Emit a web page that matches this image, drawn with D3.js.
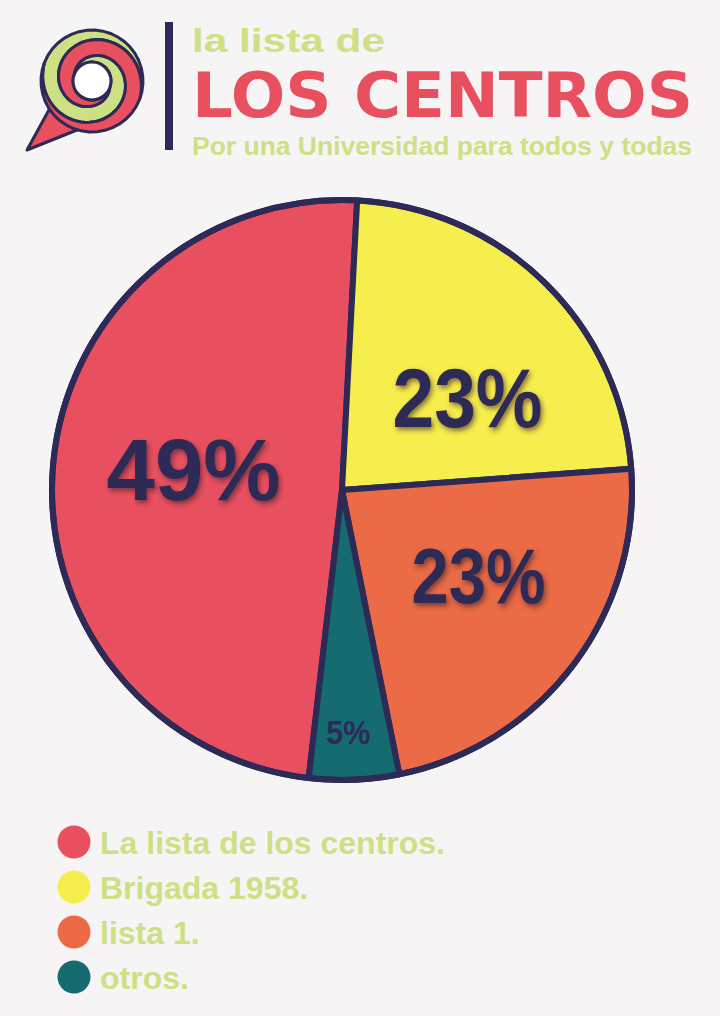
<!DOCTYPE html>
<html>
<head>
<meta charset="utf-8">
<script src="https://cdn.jsdelivr.net/npm/d3@7"></script>
<style>
  html, body { margin: 0; padding: 0; background: #f6f4f4; }
  svg { display: block; }
</style>
</head>
<body>
<svg id="chart"></svg>
<script>
// datos del gráfico
const categories = ["La lista de los centros.", "Brigada 1958.", "lista 1.", "otros."];
const values = [49, 23, 23, 5];
const labels = ["49%", "23%", "23%", "5%"];
const colors = ["#e8505f", "#f6ee4d", "#ea6b45", "#156b6f"];

const navy = "#2d2a57";
const green = "#cde083";
const W = 720, H = 1016;

const svg = d3.select("#chart").attr("width", W).attr("height", H);

svg.append("rect").attr("width", W).attr("height", H).attr("fill", "#f6f4f4");

// sombra de los porcentajes
const defs = svg.append("defs");
defs.append("filter").attr("id", "shadow")
    .attr("x", "-20%").attr("y", "-20%").attr("width", "140%").attr("height", "140%")
  .append("feDropShadow")
    .attr("dx", 2).attr("dy", 3).attr("stdDeviation", 2.5)
    .attr("flood-color", "#3b1d2c").attr("flood-opacity", 0.6);

// ---------- cabecera / logo ----------
const logo = svg.append("g");
const lc = { x: 92, y: 81 }, rIn = 19, rOut = 51;

// cola del bocadillo
logo.append("path")
    .attr("d", "M50,108 L27,150 L82,128 Z")
    .attr("fill", "#e8505f").attr("stroke", navy).attr("stroke-width", 3)
    .attr("stroke-linejoin", "round");

function spiralBand(phi) {
  const T = 2 * Math.PI, n = 60, pts = [];
  const pt = (a, r) => [lc.x + r * Math.sin(a), lc.y - r * Math.cos(a)];
  for (let i = 0; i <= n; i++) { const t = i / n; pts.push(pt(phi + t * T, rIn + (rOut - rIn) * t)); }
  for (let i = 0; i <= 20; i++) pts.push(pt(phi + T + Math.PI * i / 20, rOut));
  for (let i = n; i >= 0; i--) { const t = i / n; pts.push(pt(phi + Math.PI + t * T, rIn + (rOut - rIn) * t)); }
  for (let i = 20; i >= 0; i--) pts.push(pt(phi + Math.PI * i / 20, rIn));
  return d3.line()(pts) + "Z";
}
logo.append("path").attr("d", spiralBand(-1.2))
    .attr("fill", green).attr("stroke", navy).attr("stroke-width", 3);
logo.append("path").attr("d", spiralBand(-1.2 + Math.PI))
    .attr("fill", "#e8505f").attr("stroke", navy).attr("stroke-width", 3);
logo.append("circle").attr("cx", lc.x).attr("cy", lc.y).attr("r", rIn)
    .attr("fill", "#ffffff").attr("stroke", navy).attr("stroke-width", 3);

svg.append("rect").attr("x", 165).attr("y", 22).attr("width", 8).attr("height", 128).attr("fill", navy);

svg.append("text").attr("x", 192).attr("y", 52)
    .attr("font-family", "Liberation Sans, Arial, sans-serif").attr("font-weight", "bold").attr("font-size", 34)
    .attr("textLength", 193).attr("lengthAdjust", "spacingAndGlyphs")
    .attr("fill", green).text("la lista de");

svg.append("text").attr("x", 192).attr("y", 117)
    .attr("font-family", "DejaVu Sans, sans-serif").attr("font-weight", "bold").attr("font-size", 62)
    .attr("textLength", 501).attr("lengthAdjust", "spacingAndGlyphs")
    .attr("fill", "#e8505f").text("LOS CENTROS");

svg.append("text").attr("x", 192).attr("y", 155)
    .attr("font-family", "Liberation Sans, Arial, sans-serif").attr("font-weight", "bold").attr("font-size", 25)
    .attr("textLength", 500).attr("lengthAdjust", "spacingAndGlyphs")
    .attr("fill", green).text("Por una Universidad para todos y todas");

// ---------- gráfico de tarta ----------
const cx = 342, cy = 490, R = 290;
const total = d3.sum(values);
const rot = 3 * Math.PI / 180;
const start = -2 * Math.PI * values[0] / total + rot;

const pie = d3.pie().sort(null).value(d => d)
    .startAngle(start).endAngle(start + 2 * Math.PI);
const arcs = pie(values);
const arc = d3.arc().innerRadius(0).outerRadius(R);

const g = svg.append("g").attr("transform", `translate(${cx},${cy})`);

g.selectAll(".slice")
  .data(arcs)
  .enter()
  .append("path")
    .attr("class", "slice")
    .attr("d", arc)
    .attr("fill", (d, i) => colors[i])
    .attr("stroke", navy)
    .attr("stroke-width", 6)
    .attr("stroke-linejoin", "round");

g.append("circle").attr("r", R).attr("fill", "none").attr("stroke", navy).attr("stroke-width", 6);

// etiquetas
const labelR = [155, 155, 155, 245];
const labelNudge = [[6, -9], [17, 17], [13, -8], [-4, -3]];
const labelSize = [88, 84, 77, 34];
const labelWidth = [174, 150, 134, 44];

g.selectAll(".pct")
  .data(arcs)
  .enter()
  .append("text")
    .attr("class", "pct")
    .attr("transform", (d, i) => {
      const c = d3.arc().innerRadius(labelR[i]).outerRadius(labelR[i]).centroid(d);
      return `translate(${c[0] + labelNudge[i][0]},${c[1] + labelNudge[i][1]})`;
    })
    .attr("text-anchor", "middle")
    .attr("dy", "0.36em")
    .attr("font-family", "Liberation Sans, Arial, sans-serif")
    .attr("font-weight", "bold")
    .attr("font-size", (d, i) => labelSize[i])
    .attr("textLength", (d, i) => labelWidth[i])
    .attr("lengthAdjust", "spacingAndGlyphs")
    .attr("fill", navy)
    .attr("filter", (d, i) => i < 3 ? "url(#shadow)" : null)
    .text((d, i) => labels[i]);

// ---------- leyenda ----------
const legend = svg.append("g").attr("transform", "translate(74,842)");
const rowY = d3.scalePoint().domain(categories).range([0, 135]);

const item = legend.selectAll(".item")
  .data(categories)
  .enter()
  .append("g")
    .attr("class", "item")
    .attr("transform", d => `translate(0,${rowY(d)})`);

item.append("circle").attr("r", 16.5).attr("fill", (d, i) => colors[i]);
item.append("text")
    .attr("x", 26).attr("y", 12)
    .attr("font-family", "Liberation Sans, Arial, sans-serif")
    .attr("font-weight", "bold")
    .attr("font-size", 32)
    .attr("fill", green)
    .text(d => d);
</script>
</body>
</html>
